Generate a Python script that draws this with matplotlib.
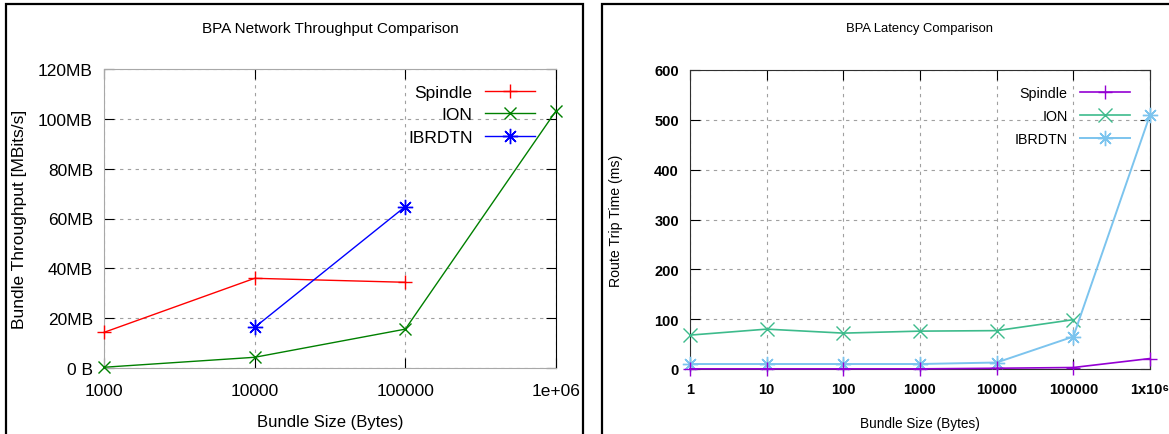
import numpy as np
import matplotlib
matplotlib.use('Agg')
import matplotlib.pyplot as plt
import matplotlib.patches as patches
from matplotlib.ticker import NullLocator

plt.rcParams['font.family'] = ['Liberation Sans', 'DejaVu Sans']

# throughput chart (left)
tp_sizes = [1000, 10000, 100000, 1000000]
tp_spindle = [14.3, 36.0, 34.4]
tp_ion = [0.3, 4.3, 15.6, 103.2]
tp_ibrdtn = [16.3, 64.8]
tp_xticklabels = ['1000', '10000', '100000', '1e+06']
tp_yticks = [0, 20, 40, 60, 80, 100, 120]
tp_yticklabels = ['0 B', '20MB', '40MB', '60MB', '80MB', '100MB', '120MB']

# latency chart (right)
lat_sizes = [1, 10, 100, 1000, 10000, 100000, 1000000]
lat_spindle = [0.3, 0.3, 0.3, 0.3, 1.5, 3.0, 21.0]
lat_ion = [68, 80, 72, 76, 77, 99]
lat_ibrdtn = [10, 10, 10, 10, 13, 65, 510]
lat_xticklabels = ['1', '10', '100', '1000', '10000', '100000', '1x10\u2076']
lat_yticks = [0, 100, 200, 300, 400, 500, 600]

W, H = 1169, 435
fig = plt.figure(figsize=(W / 100, H / 100), dpi=100)

# panel frames
fig.add_artist(patches.Rectangle((6 / W, -0.1), (583 - 6) / W, 1.1 - 5 / H,
                                 transform=fig.transFigure, fill=False,
                                 edgecolor='black', linewidth=1.6))
fig.add_artist(patches.Rectangle((602 / W, -0.1), 1.0, 1.1 - 5 / H,
                                 transform=fig.transFigure, fill=False,
                                 edgecolor='black', linewidth=1.6))

ax1 = fig.add_axes([104 / W, 1 - 369 / H, (556 - 104) / W, (369 - 70) / H])
ax2 = fig.add_axes([690 / W, 1 - 370 / H, (1150 - 690) / W, (370 - 71) / H])

star = (8, 2, 0)

# left
ax1.plot(tp_sizes[:3], tp_spindle, color='#ff0000', lw=1, marker='+', ms=10,
         mew=1, label='Spindle', clip_on=False, zorder=5)
ax1.plot(tp_sizes, tp_ion, color='#008000', lw=1, marker='x', ms=9,
         mew=1, label='ION', clip_on=False, zorder=5)
ax1.plot(tp_sizes[1:3], tp_ibrdtn, color='#0000ff', lw=1, marker=star, ms=11,
         mew=1, label='IBRDTN', clip_on=False, zorder=5)
ax1.set_xscale('log')
ax1.set_xlim(1000, 1000000)
ax1.set_ylim(0, 120)
ax1.set_xticks(tp_sizes)
ax1.set_xticklabels(tp_xticklabels)
ax1.set_yticks(tp_yticks)
ax1.set_yticklabels(tp_yticklabels)
ax1.xaxis.set_minor_locator(NullLocator())
ax1.tick_params(direction='in', length=7, top=True, right=True, labelsize=12.5)
ax1.tick_params(axis='x', pad=10.5)
ax1.tick_params(axis='y', pad=8)
ax1.grid(True, color='#a0a0a0', linestyle=(0, (3, 4)), linewidth=0.8)
for s in ['top', 'left', 'bottom']:
    ax1.spines[s].set_color('#a8a8a8')
ax1.spines['right'].set_color('black')
ax1.set_title('BPA Network Throughput Comparison', fontsize=11, y=1.11, va='center')
ax1.set_xlabel('Bundle Size (Bytes)', fontsize=12, va='center')
ax1.xaxis.set_label_coords(0.5, -0.18)
ax1.set_ylabel('Bundle Throughput [MBits/s]', fontsize=12.5, va='center')
ax1.yaxis.set_label_coords((19.5 - 104) / 452, 0.5)
ax1.legend(loc='upper right', bbox_to_anchor=(0.9535, 0.948), frameon=False,
           markerfirst=False, fontsize=12.5, handlelength=2.9, handletextpad=0.7,
           labelspacing=0.42, borderpad=0, borderaxespad=0, numpoints=1)

# right
ax2.plot(lat_sizes, lat_spindle, color='#9400d3', lw=1.2, marker='+', ms=10,
         mew=1, label='Spindle', clip_on=False, zorder=6)
ax2.plot(lat_sizes[:6], lat_ion, color='#3dbb8c', lw=1.2, marker='x', ms=10,
         mew=1, label='ION', clip_on=False, zorder=5)
ax2.plot(lat_sizes, lat_ibrdtn, color='#7cc4ee', lw=1.4, marker=star, ms=11,
         mew=1, label='IBRDTN', clip_on=False, zorder=5)
ax2.set_xscale('log')
ax2.set_xlim(1, 1000000)
ax2.set_ylim(0, 600)
ax2.set_xticks(lat_sizes)
ax2.set_xticklabels(lat_xticklabels)
ax2.set_yticks(lat_yticks)
ax2.xaxis.set_minor_locator(NullLocator())
ax2.tick_params(direction='in', length=7, top=True, right=True, labelsize=10.5)
ax2.tick_params(axis='x', pad=9.5)
ax2.tick_params(axis='y', pad=8)
for lbl in ax2.get_xticklabels() + ax2.get_yticklabels():
    lbl.set_fontweight('bold')
ax2.grid(True, color='#a0a0a0', linestyle=(0, (3, 4)), linewidth=0.8)
for s in ax2.spines.values():
    s.set_color('#303030')
ax2.set_title('BPA Latency Comparison', fontsize=9.4, y=1.112, va='center')
ax2.set_xlabel('Bundle Size (Bytes)', fontsize=9.8, va='center')
ax2.xaxis.set_label_coords(0.5, -0.18)
ax2.set_ylabel('Route Trip Time (ms)', fontsize=10.2, va='center')
ax2.yaxis.set_label_coords((616 - 690) / 460, 0.5)
ax2.legend(loc='upper right', bbox_to_anchor=(0.9565, 0.945), frameon=False,
           markerfirst=False, fontsize=10.3, handlelength=3.5, handletextpad=0.85,
           labelspacing=0.6, borderpad=0, borderaxespad=0, numpoints=1)

fig.savefig('out.png', dpi=100)
